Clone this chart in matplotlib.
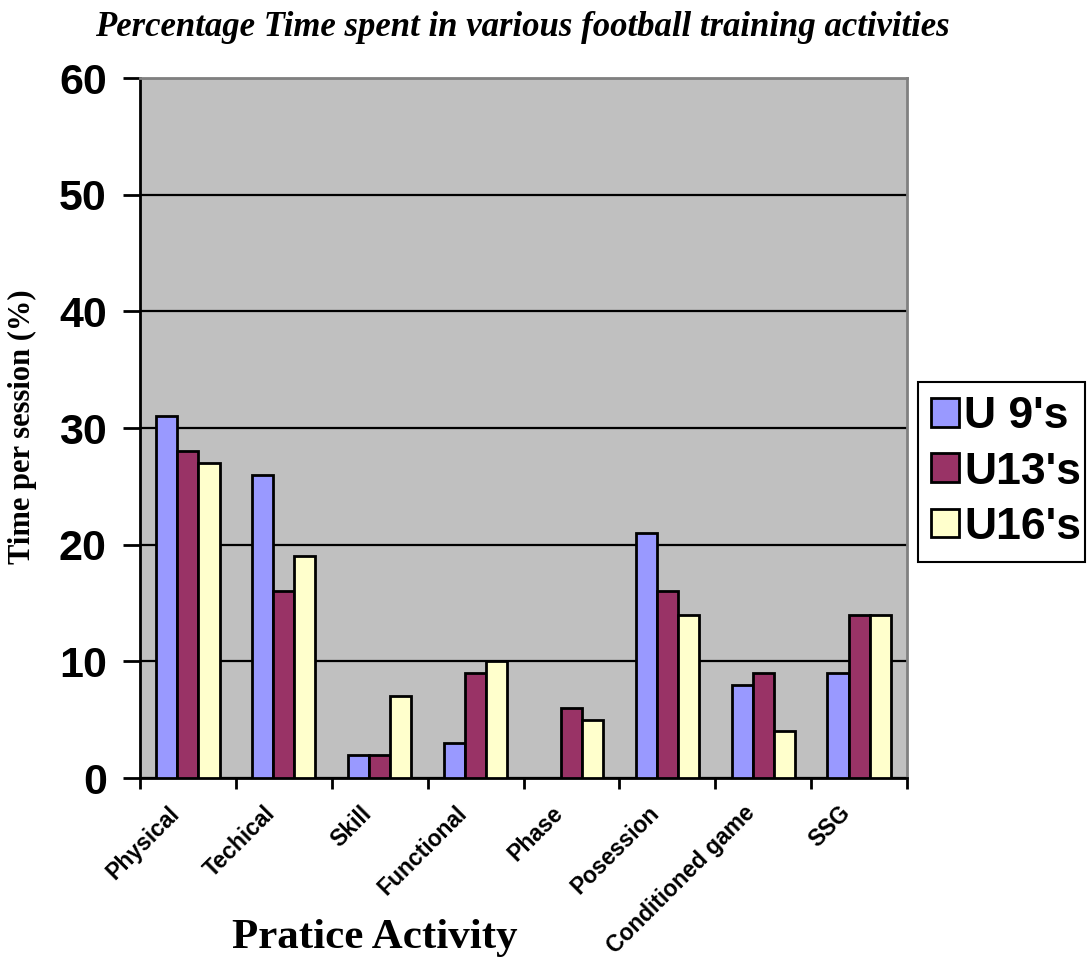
import matplotlib
matplotlib.use("Agg")
import matplotlib.pyplot as plt
import matplotlib.transforms as mtransforms
from matplotlib.patches import Rectangle
import numpy as np

categories = ["Physical", "Techical", "Skill", "Functional", "Phase",
              "Posession", "Conditioned game", "SSG"]
u9 = [31, 26, 2, 3, 0, 21, 8, 9]
u13 = [28, 16, 2, 9, 6, 16, 9, 14]
u16 = [27, 19, 7, 10, 5, 14, 4, 14]
series_names = ["U 9's", "U13's", "U16's"]
colors = ["#9999FF", "#993366", "#FFFFCC"]

fig = plt.figure(figsize=(10.88, 9.63), dpi=100)
ax = fig.add_axes([140/1088, 185/963, 767/1088, 700/963])
ax.set_facecolor("#C0C0C0")

x = np.arange(len(categories))
w = 0.22
for i, (vals, name, c) in enumerate(zip([u9, u13, u16], series_names, colors)):
    ax.bar(x + (i - 1) * w, vals, w, color=c, edgecolor="black", linewidth=2,
           label=name, zorder=3)

ax.set_xlim(-0.5, len(categories) - 0.5)
ax.set_ylim(0, 60)
ax.set_yticks(range(0, 61, 10))
ax.yaxis.grid(True, color="black", linewidth=1.6, zorder=1)
ax.set_axisbelow(True)
ax.tick_params(axis="y", length=12, width=2, labelsize=31, pad=12)
for lab in ax.get_yticklabels():
    lab.set_fontweight("bold")
    lab.set_family("Liberation Sans")

# x ticks at group boundaries, labels at centers
ax.set_xticks(np.arange(-0.5, len(categories), 1.0))
ax.set_xticklabels([])
ax.tick_params(axis="x", length=8, width=2)
ax.set_xticks(x, minor=True)
ax.set_xticklabels(categories, minor=True, rotation=45, ha="right",
                   rotation_mode="anchor", fontsize=16.5, fontweight="bold",
                   family="Liberation Sans")
ax.tick_params(axis="x", which="minor", length=0, pad=17)
offset = mtransforms.ScaledTranslation(-20/100, 0, fig.dpi_scale_trans)
for lab in ax.get_xticklabels(minor=True):
    lab.set_transform(lab.get_transform() + offset)

for s in ["left", "bottom"]:
    ax.spines[s].set_color("black")
    ax.spines[s].set_linewidth(2)
for s in ["top", "right"]:
    ax.spines[s].set_color("#808080")
    ax.spines[s].set_linewidth(2)

fig.text(522/1088, 1 - 27/963,
         "Percentage Time spent in various football training activities",
         ha="center", va="center", fontsize=25, fontweight="bold",
         style="italic", family="Liberation Serif")
fig.text(22/1088, 1 - 427/963, "Time per session (%)", rotation=90,
         ha="center", va="center", fontsize=22, fontweight="bold",
         family="Liberation Serif")
fig.text(375/1088, 1 - 938/963, "Pratice Activity", ha="center", va="center",
         fontsize=31, fontweight="bold", family="Liberation Serif")

# legend frame drawn separately (text sits close to right border)
fig.patches.append(Rectangle((918/1088, (963 - 562)/963), 167/1088, 180/963,
                             fill=True, facecolor="white", edgecolor="black",
                             linewidth=1.5, transform=fig.transFigure,
                             figure=fig))
leg = fig.legend(loc="center left", bbox_to_anchor=(931/1088, 1 - 472/963),
                 prop={"family": "Liberation Sans", "weight": "bold", "size": 32},
                 frameon=False,
                 handlelength=0.62, handleheight=0.62, handletextpad=0.12,
                 labelspacing=0.32, borderpad=0.0, borderaxespad=0)

fig.savefig("out.png", dpi=100)
